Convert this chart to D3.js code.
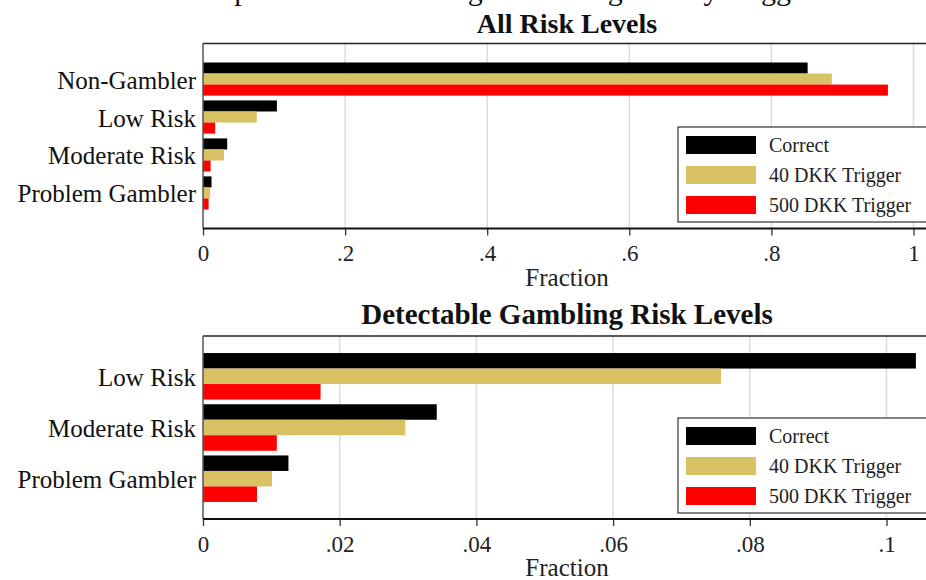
<!DOCTYPE html>
<html>
<head>
<meta charset="utf-8">
<script src="https://cdn.jsdelivr.net/npm/d3@7"></script>
<style>
  body { margin: 0; background: #fff; }
  svg { display: block; font-family: "Liberation Serif", "DejaVu Serif", serif; }
</style>
</head>
<body>
<svg id="chart" width="926" height="580"></svg>
<script>
// series names and colours
var seriesNames = ["Correct", "40 DKK Trigger", "500 DKK Trigger"];
var seriesColors = ["#000000", "#d9c264", "#ff0000"];

// top panel: all risk levels
var topCategories = ["Non-Gambler", "Low Risk", "Moderate Risk", "Problem Gambler"];
var topCorrect = [0.851, 0.104, 0.034, 0.012];
var topTrig40 = [0.885, 0.0757, 0.0295, 0.0101];
var topTrig500 = [0.964, 0.0171, 0.0107, 0.0079];
var topTicks = [0, 0.2, 0.4, 0.6, 0.8, 1];
var topTickLabels = ["0", ".2", ".4", ".6", ".8", "1"];

// bottom panel: detectable risk levels only
var botCategories = ["Low Risk", "Moderate Risk", "Problem Gambler"];
var botCorrect = [0.1043, 0.0342, 0.0125];
var botTrig40 = [0.0758, 0.0296, 0.0101];
var botTrig500 = [0.0172, 0.0108, 0.0079];
var botTicks = [0, 0.02, 0.04, 0.06, 0.08, 0.1];
var botTickLabels = ["0", ".02", ".04", ".06", ".08", ".1"];

var svg = d3.select("#chart");

// main title, sits above the top edge (as in the original export, only descenders show)
svg.append("text")
    .attr("x", 176)
    .attr("y", 0)
    .attr("font-size", "30px")
    .attr("fill", "#111")
    .text("Comparison of Gambling Risk Categories by Trigger");

function drawPanel(opt) {
    var g = svg.append("g");
    var left = 203, right = 931;

    var x = d3.scaleLinear().domain([0, opt.xMax]).range([left, opt.xMaxPx]);
    var y = d3.scaleBand().domain(opt.categories)
        .range([opt.top, opt.bottom])
        .paddingInner(opt.padIn).paddingOuter(opt.padOut);
    var ySeries = d3.scaleBand().domain(seriesNames).range([0, y.bandwidth()]);

    // gridlines
    g.selectAll("line.grid")
        .data(opt.ticks.slice(1))
        .enter().append("line")
        .attr("class", "grid")
        .attr("x1", function (d) { return x(d); })
        .attr("x2", function (d) { return x(d); })
        .attr("y1", opt.top)
        .attr("y2", opt.bottom)
        .attr("stroke", "#dcdcdc")
        .attr("stroke-width", 1.5);

    // frame top
    g.append("line")
        .attr("x1", left).attr("x2", right)
        .attr("y1", opt.top).attr("y2", opt.top)
        .attr("stroke", "#222").attr("stroke-width", 1.5);

    // bars
    var rows = opt.categories.map(function (c, i) {
        return { cat: c, vals: [opt.s1[i], opt.s2[i], opt.s3[i]] };
    });
    var groups = g.selectAll("g.row")
        .data(rows)
        .enter().append("g")
        .attr("class", "row")
        .attr("transform", function (d) { return "translate(0," + y(d.cat) + ")"; });

    groups.selectAll("rect")
        .data(function (d) { return d.vals.map(function (v, j) { return { name: seriesNames[j], v: v, c: seriesColors[j] }; }); })
        .enter().append("rect")
        .attr("x", x(0))
        .attr("y", function (d) { return ySeries(d.name); })
        .attr("width", function (d) { return x(d.v) - x(0); })
        .attr("height", ySeries.bandwidth())
        .attr("fill", function (d) { return d.c; });

    // category labels
    g.selectAll("text.cat")
        .data(opt.categories)
        .enter().append("text")
        .attr("class", "cat")
        .attr("x", 196)
        .attr("y", function (d) { return y(d) + y.bandwidth() / 2; })
        .attr("dy", "0.38em")
        .attr("text-anchor", "end")
        .attr("font-size", "25px")
        .attr("fill", "#111")
        .text(function (d) { return d; });

    // left axis line
    g.append("line")
        .attr("x1", left).attr("x2", left)
        .attr("y1", opt.top).attr("y2", opt.bottom)
        .attr("stroke", "#555").attr("stroke-width", 1.5);

    // bottom axis
    var axis = d3.axisBottom(x)
        .tickValues(opt.ticks)
        .tickFormat(function (d, i) { return opt.tickLabels[i]; })
        .tickSize(7)
        .tickSizeOuter(0);
    var ax = g.append("g")
        .attr("transform", "translate(0," + opt.bottom + ")")
        .call(axis);
    ax.select(".domain").remove();
    ax.append("line")
        .attr("x1", left).attr("x2", right)
        .attr("stroke", "#111").attr("stroke-width", 2);
    ax.selectAll(".tick line").attr("stroke", "#333").attr("stroke-width", 1.3);
    ax.selectAll(".tick text")
        .attr("y", 32.5).attr("dy", 0)
        .attr("font-family", "Liberation Serif, serif")
        .attr("font-size", "23px")
        .attr("fill", "#222");

    // axis title
    g.append("text")
        .attr("x", (left + right) / 2)
        .attr("y", opt.bottom + 57)
        .attr("text-anchor", "middle")
        .attr("font-size", "25px")
        .attr("fill", "#222")
        .text("Fraction");

    // panel title
    g.append("text")
        .attr("x", (left + right) / 2)
        .attr("y", opt.titleY)
        .attr("text-anchor", "middle")
        .attr("font-size", opt.titleSize)
        .attr("font-weight", "bold")
        .attr("fill", "#111")
        .text(opt.title);

    // legend
    var lg = g.append("g").attr("transform", "translate(678," + opt.legendTop + ")");
    lg.append("rect")
        .attr("x", 0).attr("y", 0)
        .attr("width", 252).attr("height", 95)
        .attr("fill", "#fff")
        .attr("stroke", "#333").attr("stroke-width", 1.2);
    var items = lg.selectAll("g.item")
        .data(seriesNames)
        .enter().append("g")
        .attr("class", "item")
        .attr("transform", function (d, i) { return "translate(0," + (9 + i * 30) + ")"; });
    items.append("rect")
        .attr("x", 8).attr("width", 70).attr("height", 18)
        .attr("fill", function (d, i) { return seriesColors[i]; });
    items.append("text")
        .attr("x", 91).attr("y", 9)
        .attr("dy", "0.35em")
        .attr("font-size", "20px")
        .attr("fill", "#222")
        .text(function (d) { return d; });
}

drawPanel({
    title: "All Risk Levels", titleY: 33, titleSize: "28px",
    categories: topCategories, s1: topCorrect, s2: topTrig40, s3: topTrig500,
    ticks: topTicks, tickLabels: topTickLabels,
    xMax: 1, xMaxPx: 913.5,
    top: 43.5, bottom: 228.5, padIn: 0.127, padOut: 0.5,
    legendTop: 127
});

drawPanel({
    title: "Detectable Gambling Risk Levels", titleY: 324, titleSize: "29px",
    categories: botCategories, s1: botCorrect, s2: botTrig40, s3: botTrig500,
    ticks: botTicks, tickLabels: botTickLabels,
    xMax: 0.1, xMaxPx: 886.5,
    top: 336, bottom: 519, padIn: 0.092, padOut: 0.333,
    legendTop: 418
});
</script>
</body>
</html>
